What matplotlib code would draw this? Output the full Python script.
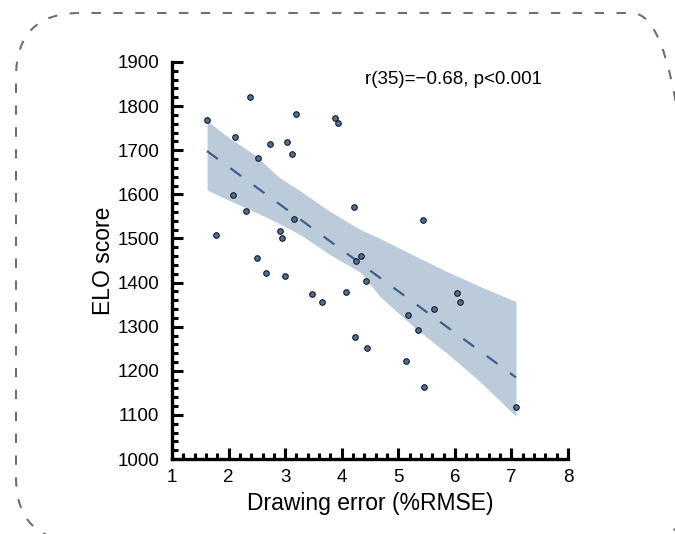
import numpy as np
import matplotlib
matplotlib.use("Agg")
import matplotlib.pyplot as plt
from matplotlib.patches import FancyBboxPatch
from matplotlib.ticker import MultipleLocator

plt.rcParams['font.family'] = ['Liberation Sans Narrow', 'Liberation Sans', 'DejaVu Sans']

# drawing error (%RMSE) and ELO score per participant
err = [1.62, 2.38, 2.11, 3.20, 3.89, 3.94, 2.73, 3.03, 3.12, 2.52,
       2.08, 2.30, 4.21, 3.16, 1.78, 2.91, 2.94, 2.51, 4.34, 4.26,
       5.44, 4.43, 4.08, 6.03, 6.09, 5.63, 5.18, 5.34, 4.23, 4.44,
       5.14, 5.46, 7.08, 2.66, 3.00, 3.47, 3.66]
elo = [1768, 1821, 1729, 1783, 1773, 1761, 1714, 1718, 1692, 1683,
       1599, 1562, 1571, 1543, 1507, 1518, 1500, 1456, 1460, 1450,
       1541, 1403, 1378, 1377, 1357, 1339, 1327, 1292, 1277, 1252,
       1223, 1164, 1118, 1421, 1414, 1375, 1357]

# fitted line and confidence band
fit_x = [1.62, 7.08]
fit_y = [1698, 1185]
band_x = [1.62, 2.00, 2.47, 2.88, 3.29, 3.76, 4.24, 4.35, 4.68, 5.27, 5.86, 6.45, 7.08]
band_hi = [1767, 1729, 1689, 1640, 1606, 1564, 1527, 1519, 1500, 1462, 1425, 1391, 1357]
band_lo = [1610, 1587, 1560, 1535, 1507, 1466, 1430, 1421, 1368, 1300, 1240, 1175, 1097]

stat_text = 'r(35)=\u22120.68, p<0.001'

fig = plt.figure(figsize=(6.75, 5.34), dpi=100)
ax = fig.add_axes([0.2548, 0.1404, 0.5867, 0.7435])

ax.fill_between(band_x, band_lo, band_hi, color='#bccbd9', lw=0, zorder=1)
ax.plot(fit_x, fit_y, color='#3d5f8c', lw=1.6, dashes=(6, 7), zorder=2)
ax.scatter(err, elo, s=16, c='#4a6fa0', edgecolors='#1a1a1a', linewidths=0.8, zorder=3)

ax.set_xlim(1, 8)
ax.set_ylim(1000, 1900)
ax.xaxis.set_major_locator(MultipleLocator(1))
ax.xaxis.set_minor_locator(MultipleLocator(0.2))
ax.yaxis.set_major_locator(MultipleLocator(100))
ax.yaxis.set_minor_locator(MultipleLocator(20))

for s in ['top', 'right']:
    ax.spines[s].set_visible(False)
for s in ['left', 'bottom']:
    ax.spines[s].set_linewidth(2.4)
    ax.spines[s].set_capstyle('projecting')

ax.tick_params(which='major', direction='in', length=8, width=2.2, labelsize=13.5, pad=7)
ax.tick_params(which='minor', direction='in', length=4.5, width=2.2)
ax.tick_params(axis='y', which='major', pad=9)

ax.set_xlabel('Drawing error (%RMSE)', fontsize=16.5)
ax.xaxis.set_label_coords(0.5, -0.082)
ax.set_ylabel('ELO score', fontsize=16.5, labelpad=2)

ax.text(0.712, 0.955, stat_text, transform=ax.transAxes, ha='center', va='center', fontsize=13.5)

# dashed rounded frame around the panel, in figure fractions (runs off right and bottom)
W, H = 675.0, 534.0
frame = FancyBboxPatch((16 / W, -7 / H), 680 / W, 528 / H,
                       boxstyle='round,pad=0,rounding_size=%f' % (64 / W),
                       mutation_aspect=W / H,
                       transform=fig.transFigure, fill=False,
                       ec='#707070', lw=1.5, ls=(0, (4.5, 6)), clip_on=False)
fig.patches.append(frame)

fig.savefig('out.png', dpi=100)
